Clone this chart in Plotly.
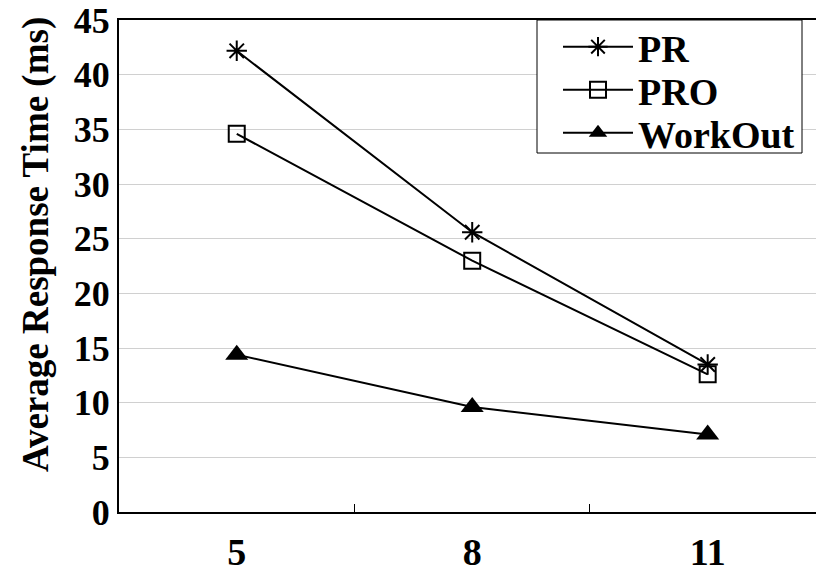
import plotly.graph_objects as go

categories = ["5", "8", "11"]
pr = [42.2, 25.6, 13.5]
pro = [34.6, 23.0, 12.6]
workout = [14.4, 9.6, 7.1]
y_ticks = [0, 5, 10, 15, 20, 25, 30, 35, 40, 45]

FONT = "Liberation Serif"
L, R, T, B = 119, 0, 20, 63
W, H = 816, 575
PW, PH = W - L - R, H - T - B


def px_x(v):
    return (v - L) / PW


def px_y(v):
    return (H - B - v) / PH


fig = go.Figure()
fig.add_trace(go.Scatter(
    x=categories, y=pr, name="<b>PR</b>", mode="lines+markers", legend="legend",
    line=dict(color="black", width=2),
    marker=dict(symbol="asterisk-open", size=17, color="black", line=dict(color="black", width=2)),
))
fig.add_trace(go.Scatter(
    x=categories, y=pro, name="<b>PRO</b>", mode="lines+markers", legend="legend2",
    line=dict(color="black", width=2),
    marker=dict(symbol="square-open", size=16, color="black", line=dict(color="black", width=2)),
))
fig.add_trace(go.Scatter(
    x=categories, y=workout, name="<b>WorkOut</b>", mode="lines+markers", legend="legend3",
    line=dict(color="black", width=2),
    marker=dict(symbol="triangle-up", size=20, color="black"),
))

leg_common = dict(
    xanchor="left", yanchor="middle",
    bgcolor="rgba(0,0,0,0)", borderwidth=0,
    font=dict(family=FONT, size=38, color="black"),
    itemwidth=70,
)
LEG_X = px_x(558)

fig.update_layout(
    width=W, height=H,
    margin=dict(l=L, r=R, t=T, b=B, autoexpand=False),
    paper_bgcolor="white", plot_bgcolor="white",
    font=dict(family=FONT, color="black", size=32),
    showlegend=True,
    legend=dict(x=LEG_X, y=px_y(47), **leg_common),
    legend2=dict(x=LEG_X, y=px_y(90), **leg_common),
    legend3=dict(x=LEG_X, y=px_y(133), **leg_common),
    shapes=[dict(
        type="rect", xref="paper", yref="paper",
        x0=px_x(537), x1=px_x(802), y0=px_y(153), y1=1,
        line=dict(color="black", width=1), fillcolor="white", layer="above",
    )],
    annotations=[dict(
        text="<b>Average Response Time (ms)</b>", textangle=-90,
        xref="paper", yref="paper", x=px_x(36), y=px_y(245),
        xanchor="center", yanchor="middle", showarrow=False,
        font=dict(family=FONT, size=37, color="black"),
    )],
    xaxis=dict(
        type="category", range=[-0.5, 2.46], automargin=False,
        showline=True, linecolor="black", linewidth=2, mirror=True,
        ticks="inside", tickson="boundaries", ticklen=8, tickcolor="black", tickwidth=1,
        showgrid=False,
        tickfont=dict(family=FONT, size=38, color="black"),
        tickprefix="<b>", ticksuffix="</b>",
        ticklabelstandoff=5,
    ),
    yaxis=dict(
        range=[0, 45.02], tickmode="array", tickvals=y_ticks, automargin=False,
        ticktext=["<b>%d</b>" % v for v in y_ticks],
        ticklabeloverflow="allow",
        showline=True, linecolor="black", linewidth=2,
        showgrid=True, gridcolor="#d0d0d0", gridwidth=1,
        ticks="", zeroline=False,
        tickfont=dict(family=FONT, size=36, color="black"),
    ),
)

fig.write_html("out.html")
